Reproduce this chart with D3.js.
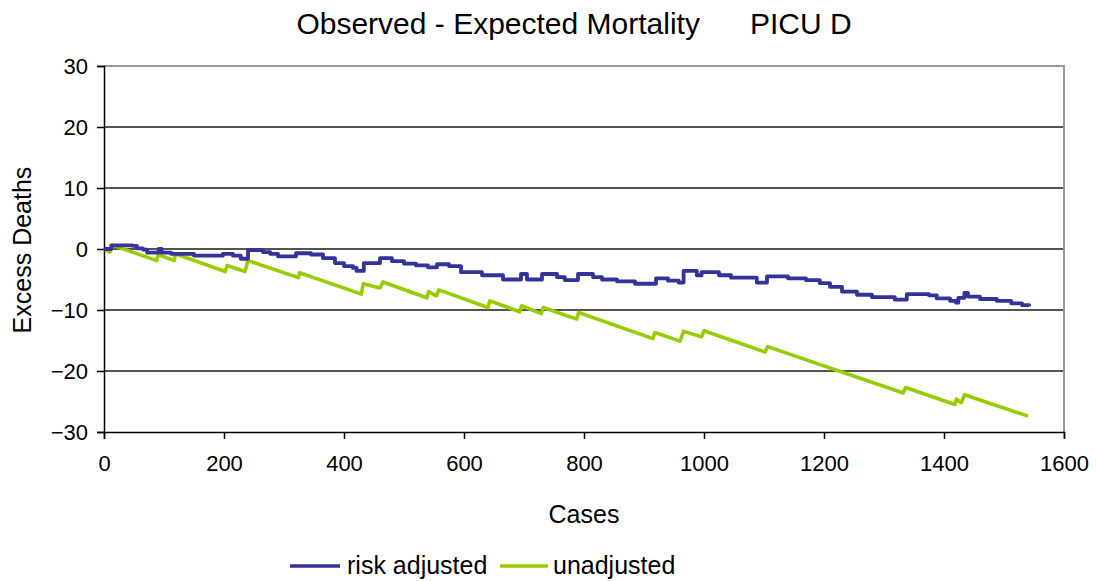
<!DOCTYPE html>
<html>
<head>
<meta charset="utf-8">
<script src="https://cdn.jsdelivr.net/npm/d3@7"></script>
<style>
  body { margin: 0; background: #fff; }
  svg text { font-family: "Liberation Sans", Arial, sans-serif; fill: #000; }
</style>
</head>
<body>
<div id="chart"></div>
<script>
// cumulative observed - expected deaths as [case, excess]
const riskAdjusted = [
  [0,0],[12,0.6],[48,0.5],[55,0.1],[65,-0.1],[72,-0.6],[91,0],[96,-0.6],[112,-0.8],[150,-1.1],
  [198,-0.8],[215,-1.1],[228,-1.6],[240,-0.2],[265,-0.5],[277,-0.8],[290,-1.2],[320,-0.7],[345,-0.9],
  [365,-1.5],[385,-2.3],[400,-2.8],[415,-3.1],[421,-3.6],[433,-2.3],[460,-1.5],[480,-2.0],[500,-2.4],
  [520,-2.7],[540,-3.0],[555,-2.5],[575,-2.8],[595,-3.8],[630,-4.3],[665,-5.0],[695,-4.1],[705,-5.0],
  [730,-4.1],[755,-4.6],[768,-5.1],[790,-4.1],[815,-4.6],[830,-5.0],[855,-5.3],[885,-5.7],[920,-4.8],
  [940,-5.2],[958,-5.5],[966,-3.6],[988,-4.3],[996,-3.8],[1025,-4.3],[1045,-4.7],[1088,-5.5],[1105,-4.5],
  [1140,-4.8],[1170,-5.1],[1193,-5.6],[1210,-6.2],[1230,-7.0],[1255,-7.5],[1280,-7.9],[1318,-8.3],
  [1338,-7.4],[1375,-7.6],[1388,-8.1],[1410,-8.5],[1420,-8.8],[1424,-8.0],[1434,-7.2],[1440,-7.8],
  [1460,-8.2],[1488,-8.5],[1512,-8.9],[1530,-9.2],[1542,-9.4]
];
const unadjusted = [
  [0,0],[10,-0.5],[15,0.6],[88,-1.9],[90,-0.9],[117,-1.9],[119,-0.8],[202,-3.7],[205,-2.7],[235,-3.7],
  [240,-1.9],[324,-4.7],[326,-3.9],[429,-7.4],[432,-5.7],[460,-6.4],[465,-5.4],[538,-8.0],[541,-7.0],
  [554,-7.7],[558,-6.7],[640,-9.6],[643,-8.5],[693,-10.3],[696,-9.3],[729,-10.6],[732,-9.6],[788,-11.5],
  [791,-10.4],[915,-14.7],[918,-13.7],[960,-15.1],[966,-13.5],[996,-14.4],[1000,-13.4],[1102,-16.9],
  [1106,-16.0],[1332,-23.6],[1336,-22.7],[1418,-25.5],[1421,-24.6],[1429,-25.2],[1434,-23.9],[1540,-27.4]
];
const xTicks = [0, 200, 400, 600, 800, 1000, 1200, 1400, 1600];
const yTicks = [-30, -20, -10, 0, 10, 20, 30];
const seriesNames = ['risk adjusted', 'unadjusted'];
const seriesColors = ['#333399', '#99cc00'];

const W = 1097, H = 581;
const margin = {top: 66, right: 33, bottom: 149, left: 104};
const width = W - margin.left - margin.right;
const height = H - margin.top - margin.bottom;

const svg = d3.select('#chart').append('svg')
  .attr('width', W)
  .attr('height', H);

const chart = svg.append('g')
  .attr('transform', `translate(${margin.left},${margin.top})`);

const x = d3.scaleLinear().domain([0, 1600]).range([0, width]);
const y = d3.scaleLinear().domain([-30, 30]).range([height, 0]);

// horizontal gridlines
chart.append('g')
  .selectAll('line')
  .data(yTicks.filter(d => d > -30 && d < 30))
  .join('line')
  .attr('x1', 0).attr('x2', width)
  .attr('y1', d => y(d)).attr('y2', d => y(d))
  .attr('stroke', '#1a1a1a').attr('stroke-width', 1.3);

// plot area border (top + right)
chart.append('path')
  .attr('d', `M0,0H${width}V${height}`)
  .attr('fill', 'none')
  .attr('stroke', '#999').attr('stroke-width', 2);

// axes
const xAxis = d3.axisBottom(x).tickValues(xTicks).tickSize(7).tickPadding(16)
  .tickFormat(d3.format('d'));
const yAxis = d3.axisLeft(y).tickValues(yTicks).tickSize(7).tickPadding(9)
  .tickFormat(d3.format('d'));

chart.append('g')
  .attr('transform', `translate(0,${height})`)
  .call(xAxis)
  .call(g => g.selectAll('line, .domain').attr('stroke', '#000').attr('stroke-width', 1.5))
  .call(g => g.selectAll('text').style('font-size', '22px'));

chart.append('g')
  .call(yAxis)
  .call(g => g.selectAll('line, .domain').attr('stroke', '#000').attr('stroke-width', 1.5))
  .call(g => g.selectAll('text').style('font-size', '22px'));

// lines
const stepLine = d3.line()
  .x(d => x(d[0])).y(d => y(d[1]))
  .curve(d3.curveStepAfter);
const sawLine = d3.line()
  .x(d => x(d[0])).y(d => y(d[1]));

chart.append('path')
  .datum(unadjusted)
  .attr('d', sawLine)
  .attr('fill', 'none')
  .attr('stroke', seriesColors[1])
  .attr('stroke-width', 3.6)
  .attr('stroke-linejoin', 'round');

chart.append('path')
  .datum(riskAdjusted)
  .attr('d', stepLine)
  .attr('fill', 'none')
  .attr('stroke', seriesColors[0])
  .attr('stroke-width', 3.8)
  .attr('stroke-linejoin', 'round');

// titles
svg.append('text')
  .attr('x', 574).attr('y', 34)
  .attr('text-anchor', 'middle')
  .style('font-size', '30px')
  .style('white-space', 'pre')
  .text('Observed - Expected Mortality      PICU D');

svg.append('text')
  .attr('x', 584).attr('y', 523)
  .attr('text-anchor', 'middle')
  .style('font-size', '25px')
  .text('Cases');

svg.append('text')
  .attr('transform', 'translate(31,250) rotate(-90)')
  .attr('text-anchor', 'middle')
  .style('font-size', '25px')
  .text('Excess Deaths');

// legend
const legend = svg.append('g').attr('transform', 'translate(290,566)');
const legendX = [0, 210];
const legendLen = [50, 48];
const legendGap = [57, 53];
seriesNames.forEach((name, i) => {
  const g = legend.append('g').attr('transform', `translate(${legendX[i]},0)`);
  g.append('line')
    .attr('x1', 0).attr('x2', legendLen[i])
    .attr('stroke', seriesColors[i]).attr('stroke-width', 3.5);
  g.append('text')
    .attr('x', legendGap[i]).attr('y', 8)
    .style('font-size', '25px')
    .text(name);
});
</script>
</body>
</html>
